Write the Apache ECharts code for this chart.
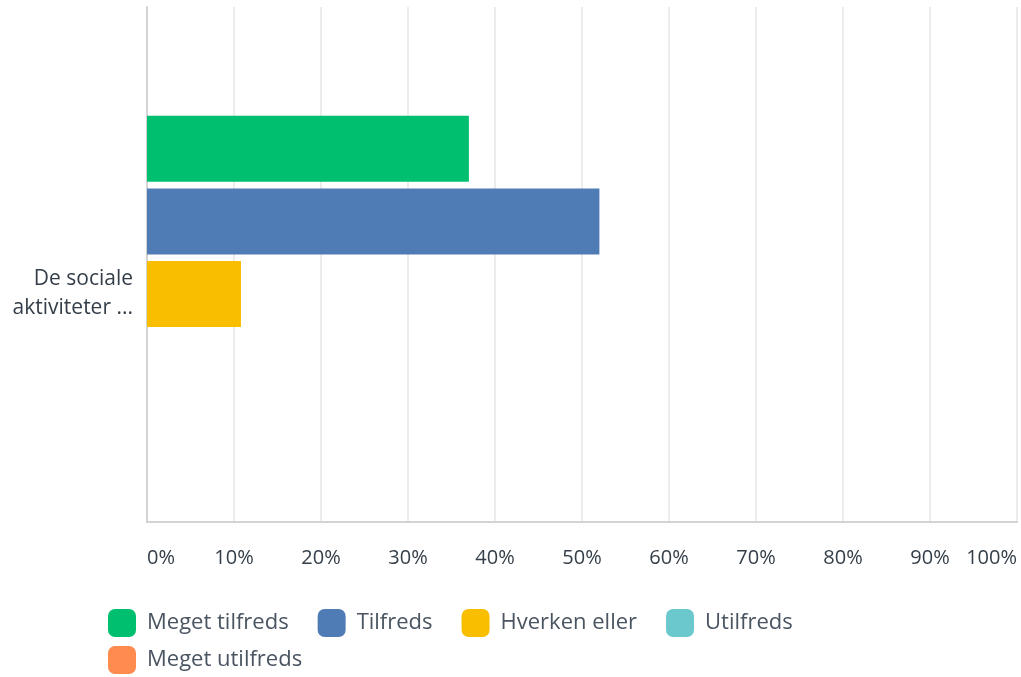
<!DOCTYPE html>
<html>
<head>
<meta charset="utf-8">
<script src="https://cdn.jsdelivr.net/npm/echarts@6/dist/echarts.min.js"></script>
<style>
  html, body { margin: 0; padding: 0; background: #fff; }
  #chart { width: 1021px; height: 677px; }
</style>
</head>
<body>
<div id="chart"></div>
<script>
const categories = ['De sociale\naktiviteter ...']
const seriesNames = ['Meget tilfreds', 'Tilfreds', 'Hverken eller', 'Utilfreds', 'Meget utilfreds']
const seriesValues = [[37.0], [52.0], [10.8], [0], [0]]
const seriesColors = ['#00bf6f', '#507cb6', '#f9be00', '#6bc8cd', '#ff8b4f']

const chart = echarts.init(document.getElementById('chart'), null, { renderer: 'canvas' })

const fontFamily = '"Open Sans", Roboto, sans-serif'

const legendBase = {
  left: 108,
  padding: 0,
  itemWidth: 28,
  itemHeight: 28,
  itemGap: 29,
  icon: 'roundRect',
  textStyle: { color: '#4a5561', fontSize: 22, fontFamily, padding: [6, 0, 0, 6] }
}

const option = {
  backgroundColor: '#fff',
  animation: false,
  legend: [
    Object.assign({}, legendBase, { data: seriesNames.slice(0, 4), top: 609 }),
    Object.assign({}, legendBase, { data: seriesNames.slice(4), top: 646 })
  ],
  grid: [
    { left: 147, right: 4, top: 7, bottom: 155 },
    { left: 147, right: 4, top: 66, bottom: 155 }
  ],
  xAxis: [
    {
      type: 'value',
      gridIndex: 0,
      min: 0,
      max: 100,
      interval: 10,
      axisLine: { show: true, lineStyle: { color: '#d3d3d3', width: 2 } },
      axisTick: { show: false },
      splitLine: { show: true, lineStyle: { color: '#ececec', width: 2 } },
      axisLabel: {
        formatter: '{value}%',
        color: '#333e48',
        fontSize: 20,
        fontFamily,
        margin: 26,
        alignMinLabel: 'left',
        alignMaxLabel: 'right'
      }
    },
    {
      type: 'value',
      gridIndex: 1,
      min: 0,
      max: 100,
      show: false
    }
  ],
  yAxis: [
    {
      type: 'value',
      gridIndex: 0,
      axisLine: { show: true, lineStyle: { color: '#d3d3d3', width: 2 } },
      axisTick: { show: false },
      axisLabel: { show: false },
      splitLine: { show: false }
    },
    {
      type: 'category',
      gridIndex: 1,
      inverse: true,
      data: categories,
      axisLine: { show: false },
      axisTick: { show: false },
      axisLabel: {
        color: '#333e48',
        fontSize: 21,
        lineHeight: 29,
        fontFamily,
        margin: 14,
        align: 'right'
      }
    }
  ],
  series: seriesNames.map((name, i) => ({
    name,
    type: 'bar',
    xAxisIndex: 1,
    yAxisIndex: 1,
    data: seriesValues[i],
    barWidth: 66,
    barGap: '10%',
    itemStyle: { color: seriesColors[i] }
  }))
}

chart.setOption(option)
</script>
</body>
</html>
